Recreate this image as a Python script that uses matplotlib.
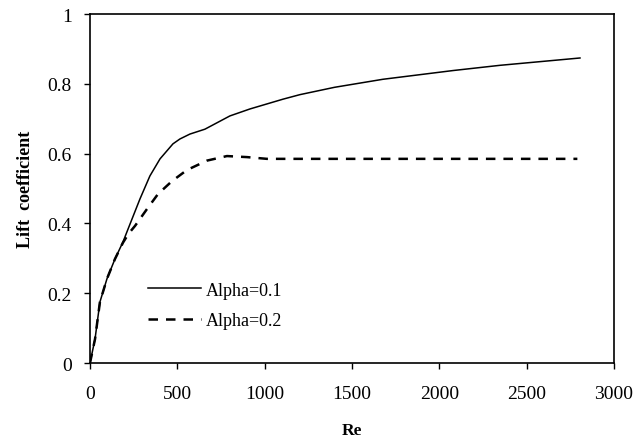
import matplotlib
matplotlib.use("Agg")
import matplotlib.pyplot as plt

# values
re_a1 = [0, 29, 57, 97, 143, 189, 218, 286, 343, 401, 475, 515, 572, 658, 801, 916,
         1105, 1202, 1400, 1677, 2078, 2347, 2805]
cl_a1 = [0, 0.069, 0.175, 0.241, 0.298, 0.347, 0.384, 0.47, 0.536, 0.585, 0.628, 0.642,
         0.656, 0.67, 0.708, 0.728, 0.756, 0.769, 0.79, 0.813, 0.838, 0.853, 0.874]

re_a2 = [0, 29, 57, 97, 143, 189, 220, 258, 326, 389, 469, 555, 670, 784, 899, 1013,
         1500, 2000, 2500, 2790]
cl_a2 = [0, 0.069, 0.175, 0.241, 0.298, 0.345, 0.37, 0.393, 0.441, 0.484, 0.521, 0.553,
         0.58, 0.593, 0.59, 0.585, 0.585, 0.585, 0.585, 0.585]

x_ticks = [0, 500, 1000, 1500, 2000, 2500, 3000]
y_ticks = [0, 0.2, 0.4, 0.6, 0.8, 1]
y_labels = ["0", "0.2", "0.4", "0.6", "0.8", "1"]

plt.rcParams["font.family"] = ["Liberation Serif", "DejaVu Serif"]

fig = plt.figure(figsize=(6.35, 4.39), dpi=100)
ax = fig.add_axes([0.1417, 0.1708, 0.8253, 0.795])

ax.plot(re_a1, cl_a1, color="black", lw=1.1, label="Alpha=0.1")
ax.plot(re_a2, cl_a2, color="black", lw=1.8, dashes=(3.8, 3.2), label="Alpha=0.2")

ax.set_xlim(0, 3000)
ax.set_ylim(0, 1)
ax.set_xticks(x_ticks)
ax.set_yticks(y_ticks)
ax.set_yticklabels(y_labels)
ax.tick_params(direction="out", length=4, width=1, labelsize=14)
ax.tick_params(axis="x", pad=12)
ax.tick_params(axis="y", pad=9)

for s in ax.spines.values():
    s.set_linewidth(1.2)

ax.set_xlabel("Re", fontsize=12.5, fontweight="bold", labelpad=14)
ax.set_ylabel("Lift  coefficient", fontsize=13, fontweight="bold", labelpad=10)

ax.legend(loc="lower left", bbox_to_anchor=(0.08, 0.05), frameon=False,
          fontsize=13, handlelength=2.9, handletextpad=0.3, labelspacing=0.75)

fig.savefig("out.png", dpi=100)
